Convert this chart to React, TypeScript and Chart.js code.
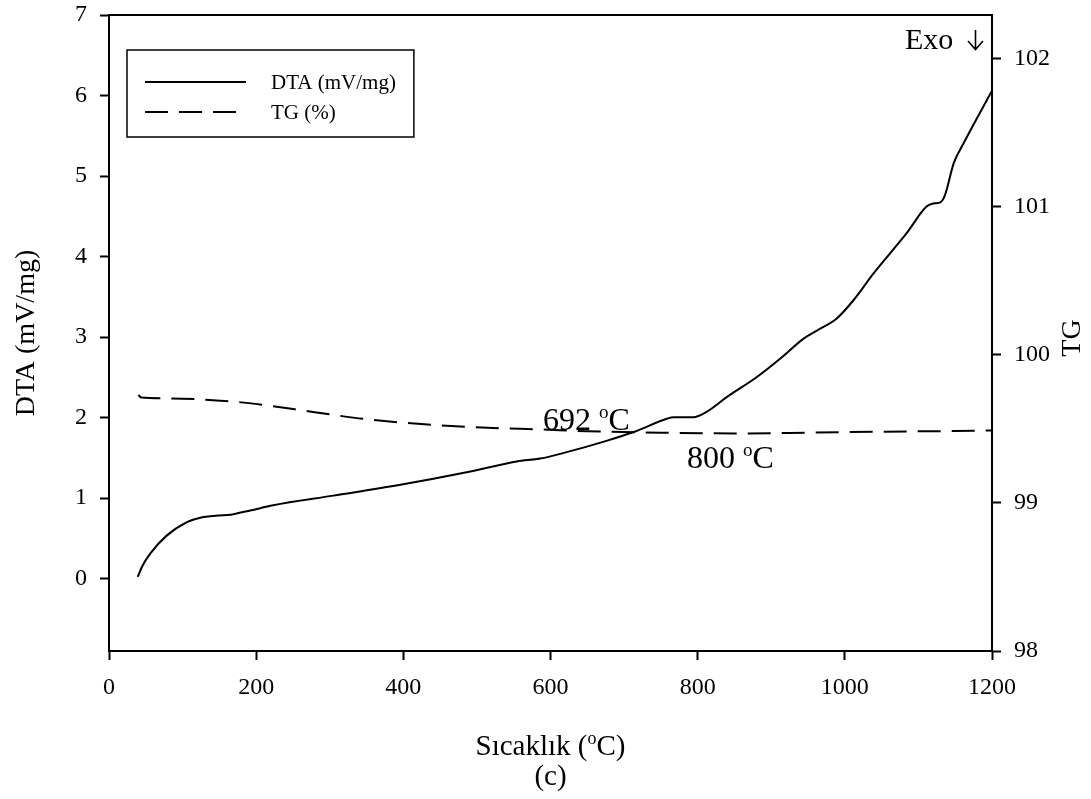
import React, { useEffect, useRef } from "react";
import { Chart, registerables } from "chart.js";

Chart.register(...registerables);

// Temperature (°C) sampled along the DTA trace
const TEMP_DTA = [39, 45, 56, 78, 106, 124, 169, 192, 223, 305, 396, 486, 554, 586, 622, 676, 713, 758, 767, 794, 812, 839, 880, 912, 944, 962, 989, 1012, 1039, 1084, 1111, 1120, 1129, 1136, 1148, 1161, 1200];
// DTA signal (mV/mg)
const DTA_VALUES = [0.02, 0.15, 0.31, 0.53, 0.70, 0.755, 0.80, 0.845, 0.91, 1.03, 1.165, 1.32, 1.455, 1.49, 1.57, 1.71, 1.82, 1.985, 2.005, 2.005, 2.07, 2.25, 2.50, 2.73, 2.98, 3.08, 3.23, 3.46, 3.79, 4.29, 4.62, 4.66, 4.67, 4.76, 5.16, 5.40, 6.06];

// Temperature (°C) sampled along the TG trace
const TEMP_TG = [40, 44, 78, 169, 214, 260, 305, 350, 441, 531, 581, 650, 750, 850, 950, 1050, 1150, 1200];
// Mass (%)
const TG_VALUES = [99.73, 99.712, 99.707, 99.685, 99.66, 99.628, 99.595, 99.566, 99.527, 99.505, 99.498, 99.485, 99.475, 99.47, 99.475, 99.482, 99.486, 99.49];

const X_TICKS = [0, 200, 400, 600, 800, 1000, 1200];
const DTA_TICKS = [0, 1, 2, 3, 4, 5, 6, 7];
const TG_TICKS = [98, 99, 100, 101, 102];

const SERIES_LABELS = ["DTA (mV/mg)", "TG (%)"];

const FONT = "'Liberation Serif', 'Times New Roman', serif";
const TG_DASH = [23, 11];

type Part = { text: string; size: number; rise?: number };

function drawParts(ctx: CanvasRenderingContext2D, parts: Part[], x: number, y: number, align: "left" | "center") {
  ctx.textBaseline = "alphabetic";
  ctx.textAlign = "left";
  let total = 0;
  for (const p of parts) {
    ctx.font = `${p.size}px ${FONT}`;
    total += ctx.measureText(p.text).width;
  }
  let cx = align === "center" ? x - total / 2 : x;
  for (const p of parts) {
    ctx.font = `${p.size}px ${FONT}`;
    ctx.fillText(p.text, cx, y - (p.rise || 0));
    cx += ctx.measureText(p.text).width;
  }
}

const decorations = {
  id: "decorations",
  afterDraw(chart: any) {
    const ctx: CanvasRenderingContext2D = chart.ctx;
    const a = chart.chartArea;
    ctx.save();
    ctx.fillStyle = "#000";
    ctx.strokeStyle = "#000";

    // top frame line
    ctx.lineWidth = 2;
    ctx.beginPath();
    ctx.moveTo(a.left, a.top);
    ctx.lineTo(a.right + 1, a.top);
    ctx.stroke();

    // axis titles
    ctx.save();
    ctx.translate(27, (a.top + a.bottom) / 2);
    ctx.rotate(-Math.PI / 2);
    ctx.font = `28px ${FONT}`;
    ctx.textAlign = "center";
    ctx.textBaseline = "middle";
    ctx.fillText("DTA (mV/mg)", 0, 0);
    ctx.restore();

    ctx.save();
    ctx.translate(1073, 338);
    ctx.rotate(-Math.PI / 2);
    ctx.font = `28px ${FONT}`;
    ctx.textAlign = "center";
    ctx.textBaseline = "middle";
    ctx.fillText("TG", 0, 0);
    ctx.restore();

    const cx = (a.left + a.right) / 2;
    drawParts(ctx, [
      { text: "Sıcaklık (", size: 29 },
      { text: "o", size: 18, rise: 11 },
      { text: "C)", size: 29 },
    ], cx, 755, "center");
    ctx.font = `29px ${FONT}`;
    ctx.textAlign = "center";
    ctx.fillText("(c)", cx, 785);

    // peak annotations
    drawParts(ctx, [
      { text: "692 ", size: 32 },
      { text: "o", size: 19, rise: 12 },
      { text: "C", size: 32 },
    ], 543, 430, "left");
    drawParts(ctx, [
      { text: "800 ", size: 32 },
      { text: "o", size: 19, rise: 12 },
      { text: "C", size: 32 },
    ], 687, 468, "left");

    // exothermic direction marker
    ctx.font = `30px ${FONT}`;
    ctx.textAlign = "left";
    ctx.textBaseline = "alphabetic";
    ctx.fillText("Exo", 905, 49);
    ctx.lineWidth = 1.6;
    ctx.beginPath();
    ctx.moveTo(975.5, 30);
    ctx.lineTo(975.5, 49);
    ctx.moveTo(968, 41);
    ctx.lineTo(975.5, 49.5);
    ctx.lineTo(983, 41);
    ctx.stroke();

    // legend
    const boxL = 127, boxT = 50, boxB = 137;
    ctx.font = `21px ${FONT}`;
    const textX = 271;
    const w = Math.max(...SERIES_LABELS.map((s) => ctx.measureText(s).width));
    const boxR = textX + w + 18;
    ctx.lineWidth = 1.5;
    ctx.strokeRect(boxL, boxT, boxR - boxL, boxB - boxT);

    const rows = [82, 112];
    chart.data.datasets.forEach((ds: any, i: number) => {
      ctx.lineWidth = 2;
      ctx.setLineDash(ds.borderDash || []);
      ctx.beginPath();
      ctx.moveTo(145, rows[i]);
      ctx.lineTo(246, rows[i]);
      ctx.stroke();
      ctx.setLineDash([]);
      ctx.textBaseline = "middle";
      ctx.textAlign = "left";
      ctx.fillText(ds.label, textX, rows[i] + 1);
    });

    ctx.restore();
  },
};

export default function App() {
  const ref = useRef<HTMLCanvasElement | null>(null);

  useEffect(() => {
    if (!ref.current) return;
    const axisGrid = {
      drawOnChartArea: false,
      drawTicks: true,
      tickLength: 9,
      tickWidth: 2,
      color: "#000",
    };
    const axisBorder = { display: true, color: "#000", width: 2 };
    const tickFont = { family: FONT, size: 24 };
    const plain = (v: any) => String(v);
    const fitVertical = (width: number) => (s: any) => {
      s.width = width;
      s.paddingTop = 15;
      s.paddingBottom = 0;
    };

    const chart = new Chart(ref.current, {
      type: "line",
      data: {
        datasets: [
          {
            label: SERIES_LABELS[0],
            data: TEMP_DTA.map((t, i) => ({ x: t, y: DTA_VALUES[i] })),
            yAxisID: "yDTA",
            borderColor: "#000",
            borderWidth: 2,
            pointRadius: 0,
            cubicInterpolationMode: "monotone",
            fill: false,
          },
          {
            label: SERIES_LABELS[1],
            data: TEMP_TG.map((t, i) => ({ x: t, y: TG_VALUES[i] })),
            yAxisID: "yTG",
            borderColor: "#000",
            borderWidth: 2,
            borderDash: TG_DASH,
            pointRadius: 0,
            cubicInterpolationMode: "monotone",
            fill: false,
          },
        ],
      },
      options: {
        responsive: false,
        animation: false,
        devicePixelRatio: 1,
        layout: { padding: 0 },
        plugins: {
          legend: { display: false },
          tooltip: { enabled: false },
        },
        scales: {
          x: {
            type: "linear",
            min: 0,
            max: 1200,
            grid: axisGrid,
            border: axisBorder,
            ticks: { color: "#000", font: tickFont, padding: 13, maxRotation: 0, callback: plain },
            afterBuildTicks: (s: any) => {
              s.ticks = X_TICKS.map((v) => ({ value: v }));
            },
            afterFit: (s: any) => {
              s.height = 148;
            },
          },
          yDTA: {
            type: "linear",
            position: "left",
            min: -0.9,
            max: 7,
            grid: axisGrid,
            border: axisBorder,
            ticks: { color: "#000", font: tickFont, padding: 13, callback: plain },
            afterBuildTicks: (s: any) => {
              s.ticks = DTA_TICKS.map((v) => ({ value: v }));
            },
            afterFit: fitVertical(109),
          },
          yTG: {
            type: "linear",
            position: "right",
            min: 98,
            max: 102.297,
            grid: axisGrid,
            border: axisBorder,
            ticks: { color: "#000", font: tickFont, padding: 13, callback: plain },
            afterBuildTicks: (s: any) => {
              s.ticks = TG_TICKS.map((v) => ({ value: v }));
            },
            afterFit: fitVertical(99),
          },
        },
      } as any,
      plugins: [decorations],
    });
    return () => chart.destroy();
  }, []);

  return (
    <div style={{ position: "absolute", left: 0, top: 0, width: 1091, height: 799, background: "#fff" }}>
      <canvas ref={ref} width={1091} height={799} style={{ display: "block" }} />
    </div>
  );
}
